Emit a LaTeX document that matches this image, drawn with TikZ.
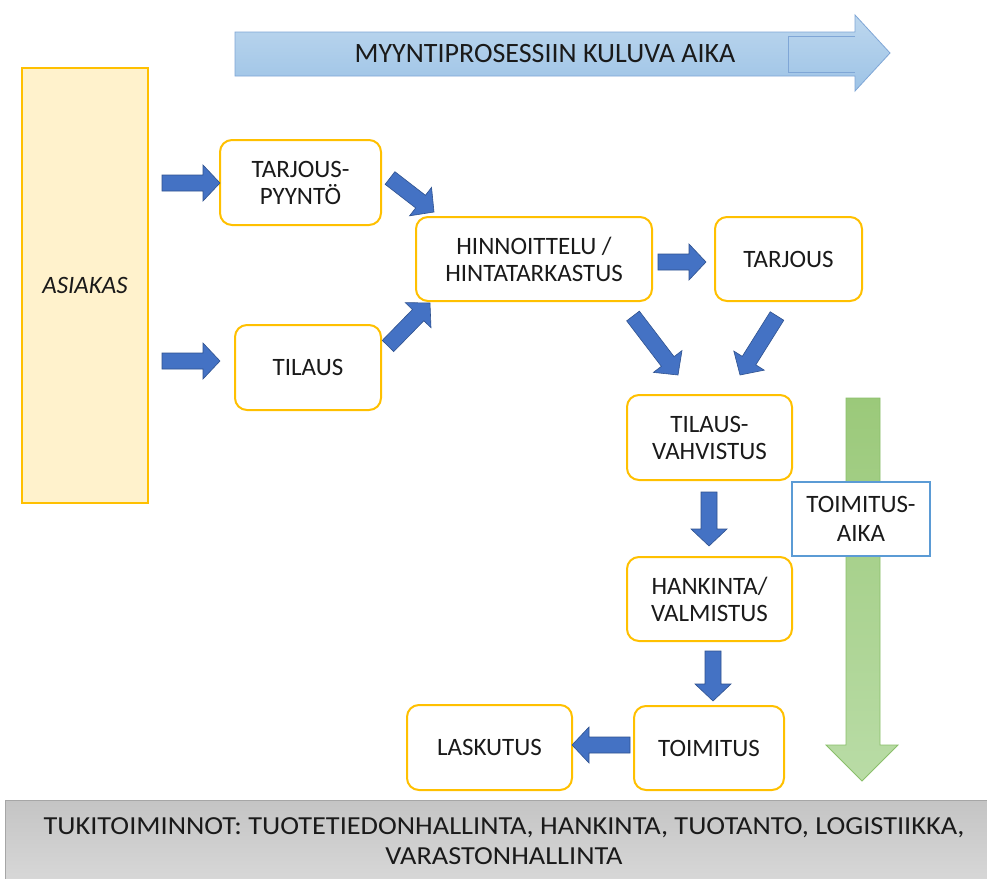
\documentclass[tikz,border=0pt]{standalone}
\usepackage{fontspec}
\setmainfont{Carlito}
\usetikzlibrary{calc,shadings}

\definecolor{flowblue}{HTML}{4472C4}
\definecolor{flowblueedge}{HTML}{2F528F}
\definecolor{gold}{HTML}{FFC000}
\definecolor{paleyellow}{HTML}{FFF2CC}
\definecolor{skytop}{HTML}{BDD7EE}
\definecolor{skybot}{HTML}{9DC3E6}
\definecolor{skyedge}{HTML}{7FA6D6}
\definecolor{leaftop}{HTML}{9BC97A}
\definecolor{leafbot}{HTML}{B9DCA6}
\definecolor{leafedge}{HTML}{8ABF6A}
\definecolor{boxblue}{HTML}{5B9BD5}
\definecolor{greytop}{HTML}{C4C4C4}
\definecolor{greybot}{HTML}{DCDCDC}
\definecolor{ink}{HTML}{1A1A1A}

\tikzset{
  stage/.style={draw=gold, line width=2pt, rounded corners=12pt, fill=white,
    align=center, font=\fontsize{25}{27}\selectfont, text=ink, inner sep=0pt},
  blockarrow/.style={fill=flowblue, draw=flowblueedge, line width=0.6pt, line join=miter},
}

% block arrow from #1 (tail) to #2 (tip)
\newcommand\blockarrow[2]{%
  \draw[blockarrow]
    ($(#1)!8pt!90:(#2)$)
    -- ($(#2)!17pt!(#1)!8pt!-90:(#1)$)
    -- ($(#2)!17pt!(#1)!18pt!-90:(#1)$)
    -- (#2)
    -- ($(#2)!17pt!(#1)!18pt!90:(#1)$)
    -- ($(#2)!17pt!(#1)!8pt!90:(#1)$)
    -- ($(#1)!8pt!-90:(#2)$)
    -- cycle;}

\begin{document}
\begin{tikzpicture}[x=1pt,y=-1pt]
\useasboundingbox (0,0) rectangle (987,878);
\fill[white] (0,0) rectangle (987,878);

% time line of the sales process
\shade[top color=skytop, bottom color=skybot, draw=skyedge, line width=0.8pt]
  (235,32) -- (855,32) -- (855,15) -- (890,53) -- (855,91) -- (855,76) -- (235,76) -- cycle;
\draw[skyedge, line width=0.8pt] (855,36) -- (788,36) -- (788,72) -- (855,72);
\node[font=\fontsize{28}{30}\selectfont, text=ink] (title) at (545,54) {MYYNTIPROSESSIIN KULUVA AIKA};

% customer
\node[draw=gold, fill=paleyellow, line width=2pt, minimum width=126pt, minimum height=435pt,
  inner sep=0pt, text=ink, font=\fontsize{25}{27}\selectfont\itshape] (asiakas) at (85,285.5) {ASIAKAS};

% delivery time arrow
\shade[top color=leaftop, bottom color=leafbot, draw=leafedge, line width=0.8pt]
  (846,398) -- (880,398) -- (880,745) -- (898,745) -- (862,781) -- (826,745) -- (846,745) -- cycle;
\node[draw=boxblue, fill=white, line width=1.5pt, minimum width=138pt, minimum height=74pt,
  inner sep=0pt, align=center, text=ink, font=\fontsize{25}{29}\selectfont] (aika) at (861,519) {TOIMITUS-\\AIKA};

% process stages
\node[stage, minimum width=161pt, minimum height=85pt] (pyynto) at (300.5,182.5) {TARJOUS-\\PYYNTÖ};
\node[stage, minimum width=146pt, minimum height=85pt] (tilaus) at (308,367.5) {TILAUS};
\node[stage, minimum width=236pt, minimum height=84pt] (hinta) at (534,259) {HINNOITTELU /\\HINTATARKASTUS};
\node[stage, minimum width=147pt, minimum height=84pt] (tarjous) at (788.5,259) {TARJOUS};
\node[stage, minimum width=165pt, minimum height=85pt] (vahvistus) at (709.5,437.5) {TILAUS-\\VAHVISTUS};
\node[stage, minimum width=165pt, minimum height=84pt] (hankinta) at (709.5,599) {HANKINTA/\\VALMISTUS};
\node[stage, minimum width=150pt, minimum height=84pt] (toimitus) at (709,748) {TOIMITUS};
\node[stage, minimum width=165pt, minimum height=85pt] (laskutus) at (489.5,747.5) {LASKUTUS};

% arrow end points
\coordinate (a1s) at (162,183);  \coordinate (a1e) at (220,183);
\coordinate (a2s) at (162,361);  \coordinate (a2e) at (220,361);
\coordinate (a3s) at (390,178);  \coordinate (a3e) at (434,212);
\coordinate (a4s) at (388,346);  \coordinate (a4e) at (430,303);
\coordinate (a5s) at (658,262);  \coordinate (a5e) at (706,262);
\coordinate (a6s) at (633,316);  \coordinate (a6e) at (678,375);
\coordinate (a7s) at (777,316);  \coordinate (a7e) at (740,375);
\coordinate (a8s) at (709,492);  \coordinate (a8e) at (709,546);
\coordinate (a9s) at (713,651);  \coordinate (a9e) at (713,701);
\coordinate (a10s) at (630,745); \coordinate (a10e) at (572,745);

\blockarrow{a1s}{a1e}
\blockarrow{a2s}{a2e}
\blockarrow{a3s}{a3e}
\blockarrow{a4s}{a4e}
\blockarrow{a5s}{a5e}
\blockarrow{a6s}{a6e}
\blockarrow{a7s}{a7e}
\blockarrow{a8s}{a8e}
\blockarrow{a9s}{a9e}
\blockarrow{a10s}{a10e}

% support functions bar
\begin{scope}
\clip (0,0) rectangle (987,878);
\shade[top color=greytop, bottom color=greybot, draw=gray!70, line width=0.8pt]
  (5,800) rectangle (1000,900);
\node[align=center, text=ink, font=\fontsize{26}{30}\selectfont, anchor=north] (tuki) at (504,814)
  {\scalebox{1.09}[1]{TUKITOIMINNOT: TUOTETIEDONHALLINTA, HANKINTA, TUOTANTO, LOGISTIIKKA,}\\
   \scalebox{1.09}[1]{VARASTONHALLINTA}};
\end{scope}
\end{tikzpicture}
\end{document}
